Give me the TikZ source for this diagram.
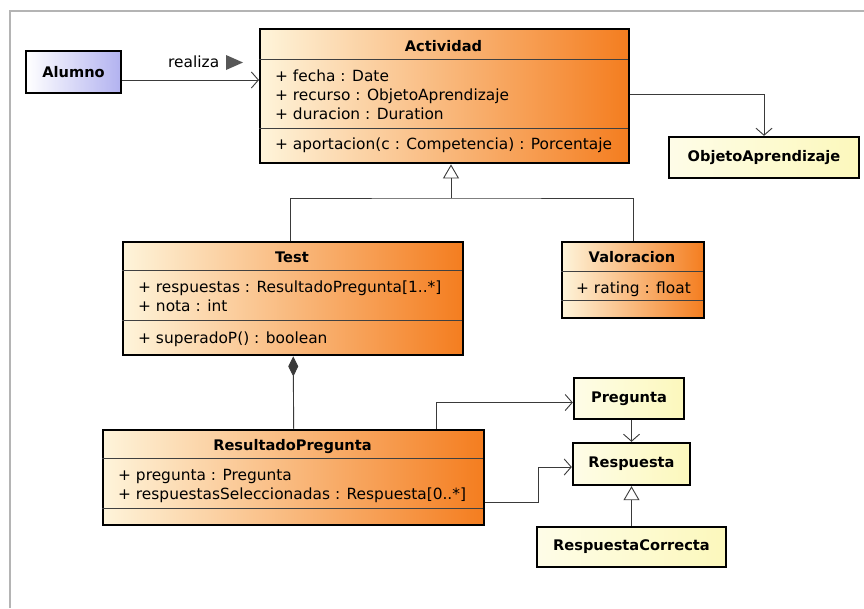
\documentclass[tikz,border=0pt]{standalone}
\usepackage{fontspec}
\setmainfont{DejaVu Sans}
\usetikzlibrary{arrows.meta}

\definecolor{crema}{HTML}{FEF4DA}
\definecolor{naranja}{HTML}{F47D1F}
\definecolor{lila}{HTML}{B2B2F0}
\definecolor{amarillo}{HTML}{FCF8BC}
\definecolor{marco}{HTML}{B4B4B4}
\definecolor{linea}{HTML}{3A3A3A}

\tikzset{
  negrita/.style={font=\fontsize{14.6}{17}\selectfont\bfseries},
  clase/.style={draw, line width=2.4pt, left color=crema, right color=naranja,
    anchor=north west, inner sep=0pt},
  tipo/.style={draw, line width=2.4pt, left color=amarillo!35, right color=amarillo,
    negrita, inner sep=0pt},
  titulo/.style={anchor=base, inner sep=0pt, negrita},
  miembro/.style={anchor=base west, inner sep=0pt},
  separa/.style={line width=0.8pt, draw=black!75},
  enlace/.style={line width=0.9pt, draw=linea},
  asocia/.style={enlace, -{Straight Barb[length=7pt, width=16pt]}},
  hereda/.style={enlace, -{Triangle[length=14pt, width=16pt, fill=white]}},
  compone/.style={enlace, {Diamond[length=20pt, width=10pt, fill=linea]}-},
}

\begin{document}
\begin{tikzpicture}[x=1pt, y=-1pt, font=\fontsize{15.4}{18}\selectfont]
  \useasboundingbox (0,0) rectangle (864,608);
  \draw[marco, line width=1.5pt] (10,608) -- (10,11) -- (864,11);

  % Alumno
  \node[draw, line width=2.4pt, left color=white, right color=lila, inner sep=0pt,
    minimum width=95pt, minimum height=42pt, negrita]
    (alumno) at (73.5,72) {Alumno};

  % Actividad
  \node[clase, minimum width=369pt, minimum height=134pt] (actividad) at (259,28) {};
  \draw[separa] (259,59) -- (628,59);
  \draw[separa] (259,128) -- (628,128);
  \node[titulo] (actividad-t) at (443.5,51) {Actividad};
  \node[miembro] (fecha) at (275,81.5) {+ fecha : Date};
  \node[miembro] (recurso) at (275,100.5) {+ recurso : ObjetoAprendizaje};
  \node[miembro] (duracion) at (275,119.5) {+ duracion : Duration};
  \node[miembro] (aportacion) at (275,149) {+ aportacion(c : Competencia) : Porcentaje};

  \node[tipo, minimum width=190pt, minimum height=41pt] (objeto) at (764,157.5) {ObjetoAprendizaje};

  % Test
  \node[clase, minimum width=340pt, minimum height=113pt] (test) at (122,241) {};
  \draw[separa] (122,270) -- (462,270);
  \draw[separa] (122,320) -- (462,320);
  \node[titulo] (test-t) at (292,262) {Test};
  \node[miembro] (respuestas) at (138,292) {+ respuestas : ResultadoPregunta[1..*]};
  \node[miembro] (nota) at (138,311) {+ nota : int};
  \node[miembro] (superado) at (138,343) {+ superadoP() : boolean};

  % Valoracion
  \node[clase, minimum width=142pt, minimum height=76pt] (valoracion) at (561,241) {};
  \draw[separa] (561,271) -- (703,271);
  \draw[separa] (561,300) -- (703,300);
  \node[titulo] (valoracion-t) at (632,262) {Valoracion};
  \node[miembro] (rating) at (576,293) {+ rating : float};

  % ResultadoPregunta
  \node[clase, minimum width=381pt, minimum height=95pt] (resultado) at (102,429) {};
  \draw[separa] (102,458) -- (483,458);
  \draw[separa] (102,508) -- (483,508);
  \node[titulo] (resultado-t) at (292.5,450) {ResultadoPregunta};
  \node[miembro] (pregunta-a) at (118,480) {+ pregunta : Pregunta};
  \node[miembro] (seleccion) at (118,499) {+ respuestasSeleccionadas : Respuesta[0..*]};

  \node[tipo, minimum width=110pt, minimum height=41pt] (pregunta) at (629,398.5) {Pregunta};
  \node[tipo, minimum width=117pt, minimum height=42pt] (respuesta) at (631.5,464) {Respuesta};
  \node[tipo, minimum width=189pt, minimum height=40pt] (correcta) at (631.5,547) {RespuestaCorrecta};

  % relaciones
  \draw[asocia] (alumno.east |- 0,80) -- (actividad.west |- 0,80);
  \node[anchor=base west, inner sep=0pt] (realiza) at (168,67) {realiza};
  \fill[linea!85] (226,55) -- (243,62.5) -- (226,70) -- cycle;
  \draw[asocia] (actividad.east |- 0,94) -| (objeto.north);

  \coordinate (union) at (451,198);
  \draw[enlace] (test.north -| 290,0) |- (union) -| (valoracion.north);
  \draw[hereda] (union) -- (union |- actividad.south);

  \draw[compone] (test.south) -- (resultado.north);
  \draw[asocia] (resultado.north -| 436,0) |- ([yshift=-4pt]pregunta.west);
  \draw[asocia] (resultado.east |- 0,502) -- (538,502) |- ([yshift=-3pt]respuesta.west);
  \draw[asocia] (pregunta.south -| respuesta.north) -- (respuesta.north);
  \draw[hereda] (correcta.north) -- (respuesta.south);
\end{tikzpicture}
\end{document}
